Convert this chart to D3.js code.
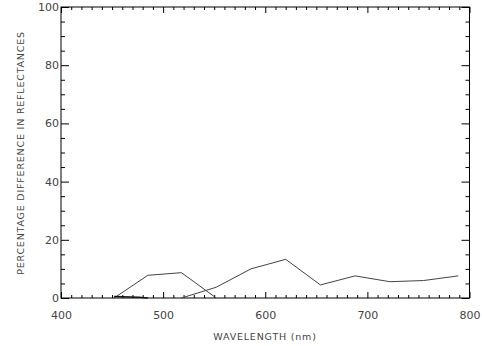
<!DOCTYPE html>
<html>
<head>
<meta charset="utf-8">
<script src="https://cdn.jsdelivr.net/npm/d3@7"></script>
<style>
  html, body { margin: 0; padding: 0; background: #fff; }
  svg { display: block; }
  .tl text { font-family: "DejaVu Sans", sans-serif; font-size: 11px; fill: #444; }
  .title { font-family: "DejaVu Sans", sans-serif; font-size: 9.5px; fill: #444; letter-spacing: 0.8px; }
</style>
</head>
<body>
<svg id="chart" width="482" height="346"></svg>
<script>
// Wavelength samples (nm) and percentage differences for each curve
const wavelengthsA = [452, 485, 518, 552];
const valuesA = [0, 7.8, 8.7, 0];

const wavelengthsB = [518, 552, 586, 620, 654, 688, 722, 755, 789];
const valuesB = [0, 3.7, 10.0, 13.3, 4.5, 7.6, 5.6, 6.0, 7.6];

const wavelengthsC = [452, 476, 485];
const valuesC = [0.5, 0.3, 0];

const xTicks = [400, 500, 600, 700, 800];
const yTicks = [0, 20, 40, 60, 80, 100];

const svg = d3.select("#chart");
const L = 61, R = 469.5, T = 7, B = 298;

const x = d3.scaleLinear().domain([400, 800]).range([L, R]);
const y = d3.scaleLinear().domain([0, 100]).range([B, T]);

const xMinor = d3.range(400, 801, 10).filter(v => v % 100 !== 0);
const yMinor = d3.range(0, 101, 5).filter(v => v % 20 !== 0);

function styleAxis(g) {
  g.select(".domain").remove();
  g.selectAll("line").attr("stroke", "#000").attr("stroke-width", 1);
}

// bottom axis with labels
svg.append("g").attr("class", "tl").attr("transform", `translate(0,${B})`)
  .call(d3.axisBottom(x).tickValues(xTicks).tickSize(-6).tickPadding(13).tickFormat(d3.format("d")))
  .call(styleAxis);
svg.append("g").attr("transform", `translate(0,${B})`)
  .call(d3.axisBottom(x).tickValues(xMinor).tickSize(-3).tickFormat(""))
  .call(styleAxis);
// top axis
svg.append("g").attr("transform", `translate(0,${T})`)
  .call(d3.axisTop(x).tickValues(xTicks).tickSize(-6).tickFormat(""))
  .call(styleAxis);
svg.append("g").attr("transform", `translate(0,${T})`)
  .call(d3.axisTop(x).tickValues(xMinor).tickSize(-3).tickFormat(""))
  .call(styleAxis);
// left axis with labels
svg.append("g").attr("class", "tl").attr("transform", `translate(${L},0)`)
  .call(d3.axisLeft(y).tickValues(yTicks).tickSize(-8).tickPadding(2).tickFormat(d3.format("d")))
  .call(styleAxis);
svg.append("g").attr("transform", `translate(${L},0)`)
  .call(d3.axisLeft(y).tickValues(yMinor).tickSize(-4).tickFormat(""))
  .call(styleAxis);
// right axis
svg.append("g").attr("transform", `translate(${R},0)`)
  .call(d3.axisRight(y).tickValues(yTicks).tickSize(-8).tickFormat(""))
  .call(styleAxis);
svg.append("g").attr("transform", `translate(${R},0)`)
  .call(d3.axisRight(y).tickValues(yMinor).tickSize(-4).tickFormat(""))
  .call(styleAxis);

// plot frame
svg.append("rect")
  .attr("x", L).attr("y", T).attr("width", R - L).attr("height", B - T)
  .attr("fill", "none").attr("stroke", "#000").attr("stroke-width", 1);

// curves
const line = d3.line().x(d => x(d[0])).y(d => y(d[1]));
function drawCurve(ws, vs, color, width) {
  svg.append("path")
    .datum(d3.zip(ws, vs))
    .attr("d", line)
    .attr("fill", "none")
    .attr("stroke", color)
    .attr("stroke-width", width);
}
drawCurve(wavelengthsA, valuesA, "#444", 1);
drawCurve(wavelengthsB, valuesB, "#444", 1);
drawCurve(wavelengthsC, valuesC, "#111", 1.5);

// axis titles
svg.append("text").attr("class", "title")
  .attr("x", 265).attr("y", 340)
  .attr("text-anchor", "middle")
  .text("WAVELENGTH (nm)");
svg.append("text").attr("class", "title")
  .attr("transform", `translate(24,153) rotate(-90)`)
  .attr("text-anchor", "middle")
  .text("PERCENTAGE DIFFERENCE IN REFLECTANCES");
</script>
</body>
</html>
